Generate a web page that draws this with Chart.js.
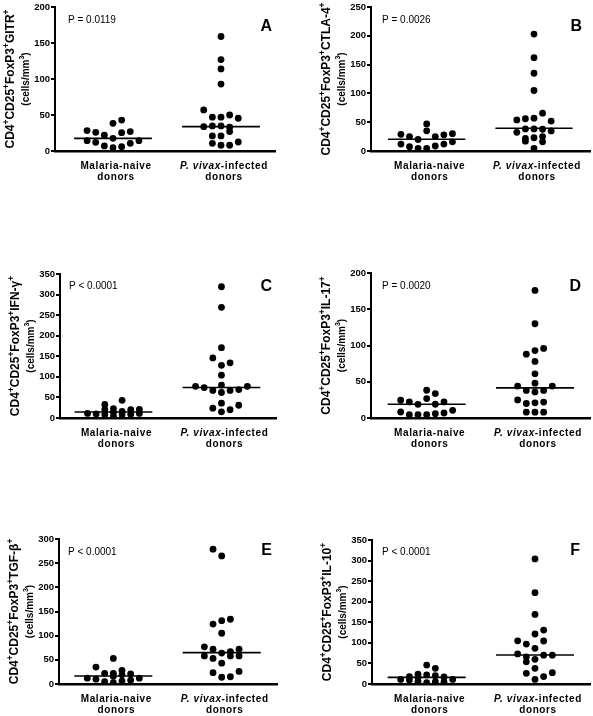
<!DOCTYPE html>
<html>
<head>
<meta charset="utf-8">
<script src="https://cdn.jsdelivr.net/npm/chart.js@4.4.1/dist/chart.umd.min.js"></script>
<style>
  html, body { margin: 0; padding: 0; background: #fff; }
  #fig { position: relative; width: 593px; height: 716px; overflow: hidden; }
  #fig canvas { position: absolute; }
</style>
</head>
<body>
<div id="fig"></div>
<script>
// ---- data (cells/mm3), one dot per donor ----
// slot = horizontal position of the dot inside its column (dot-plot spread)
const groups = ["Malaria-naive", "P. vivax-infected"];
const markers = ["GITR", "CTLA-4", "IFN-\u03b3", "IL-17", "TGF-\u03b2", "IL-10"];
const pLabels = ["P = 0.0119", "P = 0.0026", "P < 0.0001", "P = 0.0020", "P < 0.0001", "P < 0.0001"];
const letters = ["A", "B", "C", "D", "E", "F"];
const yMax = [200, 250, 350, 200, 300, 350];
const yStep = 50;

const naiveA = [28.3, 14.4, 26, 12, 22, 7, 38.5, 17.6, 4.6, 43, 25.5, 6, 27, 10.7, 14.4];
const naiveSlotsA = [-3, -3, -2, -2, -1, -1, 0, 0, 0, 1, 1, 1, 2, 2, 3];
const vivaxA = [159, 127, 114, 93, 57, 47, 47, 50, 45.5, 33.8, 34.8, 34.8, 33, 27, 21, 21, 10.7, 8, 8, 12.5];
const vivaxSlotsA = [0, 0, 0, 0, -2, -1, 0, 1, 2, -2, -1, 0, 1, 1, -1, 0, -1, 0, 1, 2];

const naiveB = [29, 12, 25, 7.5, 20, 4.6, 47, 35, 4.6, 25, 8.7, 28, 12, 30, 16];
const naiveSlotsB = [-3, -3, -2, -2, -1, -1, 0, 0, 0, 1, 1, 2, 2, 3, 3];
const vivaxB = [203, 162, 135, 105, 65.6, 54, 56, 57, 52, 32.5, 38.3, 38.3, 37.8, 34.8, 22, 17, 23, 25, 16, 4.7];
const vivaxSlotsB = [0, 0, 0, 0, 1, -2, -1, 0, 2, -2, -1, 0, 1, 2, -1, -1, 0, 1, 1, 0];

const naiveC = [11, 10, 33, 21, 8, 23, 14, 4, 43, 16, 8, 20, 9, 21, 11];
const naiveSlotsC = [-3, -2, -1, -1, -1, 0, 0, 0, 1, 1, 1, 2, 2, 3, 3];
const vivaxC = [319, 269, 171, 146, 134, 128, 104, 77, 74, 67, 80, 62, 67, 69, 77, 24, 36, 15, 20, 31];
const vivaxSlotsC = [0, 0, 0, -1, 1, 0, 0, -3, -2, -1, 0, 0, 1, 2, 3, -1, 0, 0, 1, 2];

const naiveD = [24.5, 8.3, 22.2, 4.6, 18.9, 4.6, 38.3, 26.8, 4.6, 33.7, 19, 6, 22.2, 6.9, 10.6];
const naiveSlotsD = [-3, -3, -2, -2, -1, -1, 0, 0, 0, 1, 1, 1, 2, 2, 3];
const vivaxD = [176, 130, 88, 93, 96, 78, 61, 44, 48, 44, 38, 36, 38, 25, 20, 21, 22, 8, 8, 8];
const vivaxSlotsD = [0, 0, -1, 0, 1, 0, 0, -2, 0, 2, -1, 0, 1, -2, -1, 0, 1, -1, 0, 1];

const naiveE = [12, 35, 10, 22, 5, 53, 22, 16, 3, 28, 19, 6, 21, 8, 12];
const naiveSlotsE = [-3, -2, -2, -1, -1, 0, 0, 0, 0, 1, 1, 1, 2, 2, 3];
const vivaxE = [279, 265, 124, 131, 134, 105, 77, 72, 64, 67, 72, 58, 53, 58, 58, 43, 23.5, 14, 15, 26];
const vivaxSlotsE = [-1, 0, -1, 0, 1, 0, -2, -1, 0, 1, 2, -2, -1, 1, 2, 0, -1, 0, 1, 2];

const naiveF = [11, 18, 10, 24, 16, 6, 46, 22, 3, 38, 20, 6, 17, 5, 11];
const naiveSlotsF = [-3, -2, -2, -1, -1, -1, 0, 0, 0, 1, 1, 1, 2, 2, 3];
const vivaxF = [304, 222, 169, 105, 97, 121.5, 131, 104.5, 86.7, 73, 66, 54, 60, 70, 70, 38, 26, 11, 18, 27.5];
const vivaxSlotsF = [0, 0, 0, -2, -1, 0, 1, 1, 0, -2, -1, -1, 0, 1, 2, 0, -1, 0, 1, 2];

const medianNaive = [17.6, 20.3, 14.6, 18.9, 16.6, 16.2];
const medianVivax = [33.8, 39.4, 74, 41.6, 65, 70.5];

const naive = [naiveA, naiveB, naiveC, naiveD, naiveE, naiveF];
const naiveSlots = [naiveSlotsA, naiveSlotsB, naiveSlotsC, naiveSlotsD, naiveSlotsE, naiveSlotsF];
const vivax = [vivaxA, vivaxB, vivaxC, vivaxD, vivaxE, vivaxF];
const vivaxSlots = [vivaxSlotsA, vivaxSlotsB, vivaxSlotsC, vivaxSlotsD, vivaxSlotsE, vivaxSlotsF];

// ---- layout (page pixels) ----
const layout = [
  { axis: 55,  top: 7,   bottom: 151, right: 275, xMin: 0.463, xMax: 2.5,   pDx: 13, pDy: 13.7, lDx: 3,  lDy: 20 },
  { axis: 371, top: 7,   bottom: 151, right: 590, xMin: 0.481, xMax: 2.522, pDx: 11, pDy: 13.7, lDx: 8,  lDy: 19.7 },
  { axis: 60,  top: 274, bottom: 418, right: 276, xMin: 0.505, xMax: 2.505, pDx: 9,  pDy: 12.7, lDx: 4,  lDy: 13 },
  { axis: 371, top: 273, bottom: 418, right: 590, xMin: 0.486, xMax: 2.508, pDx: 11, pDy: 13.7, lDx: 9,  lDy: 13.7 },
  { axis: 59,  top: 539, bottom: 684, right: 277, xMin: 0.499, xMax: 2.51,  pDx: 9,  pDy: 13.7, lDx: 5,  lDy: 11.7 },
  { axis: 372, top: 540, bottom: 684, right: 590, xMin: 0.495, xMax: 2.508, pDx: 10, pDy: 12.7, lDx: 10, lDy: 10.7 }
];
const FONT = '"Liberation Sans", Arial, Helvetica, sans-serif';
const SLOT = 0.08;      // x units between neighbouring dots
const HALF_LINE = 0.36; // half length of median bar
const Y_W = 24;         // width of the y scale (ticks + labels)
const LEFT_ROOM = 55;   // canvas room left of the y axis
const BELOW = 36;       // canvas room below the x axis

function drawRich(ctx, segs, x, y, size, supScale) {
  const k = supScale || 0.62;
  const parts = segs.map(([t, st]) => {
    const sup = st === "sup";
    const fs = sup ? size * k : size;
    const font = (st === "bi" ? "italic " : "") + "bold " + fs + "px " + FONT;
    ctx.font = font;
    return { t, font, w: ctx.measureText(t).width, dy: sup ? -size * 0.36 : 0 };
  });
  const total = parts.reduce((s, p) => s + p.w, 0);
  let cx = x - total / 2;
  ctx.textAlign = "left";
  parts.forEach((p) => {
    ctx.font = p.font;
    ctx.fillText(p.t, cx, y + p.dy);
    cx += p.w;
  });
}

const panelText = {
  id: "panelText",
  afterDraw(chart) {
    const i = chart.options.panelIndex;
    const L = layout[i];
    const { ctx, chartArea } = chart;
    const xs = chart.scales.x;
    ctx.save();
    ctx.fillStyle = "#000";
    ctx.textBaseline = "middle";

    // y axis title, two rotated lines
    const midY = (chartArea.top + chartArea.bottom) / 2;
    ctx.save();
    ctx.translate(chartArea.left - 44, midY);
    ctx.rotate(-Math.PI / 2);
    drawRich(ctx, [["CD4", "b"], ["+", "sup"], ["CD25", "b"], ["+", "sup"], ["FoxP3", "b"], ["+", "sup"], [markers[i], "b"], ["+", "sup"]], 0, 0, 12, 0.7);
    ctx.restore();
    ctx.save();
    ctx.translate(chartArea.left - 29, midY);
    ctx.rotate(-Math.PI / 2);
    drawRich(ctx, [["(cells/mm", "b"], ["3", "sup"], [")", "b"]], 0, 0, 10, 0.7);
    ctx.restore();

    // category labels
    ctx.letterSpacing = "0.6px";
    const x1 = xs.getPixelForValue(1) + 3;
    const x2 = xs.getPixelForValue(2) + 3;
    const yl1 = chartArea.bottom + 15;
    const yl2 = chartArea.bottom + 26;
    drawRich(ctx, [[groups[0], "b"]], x1, yl1, 10);
    drawRich(ctx, [["donors", "b"]], x1, yl2, 10);
    drawRich(ctx, [["P. vivax", "bi"], ["-infected", "b"]], x2, yl1, 10);
    drawRich(ctx, [["donors", "b"]], x2, yl2, 10);
    ctx.letterSpacing = "0px";

    // p value and panel letter
    ctx.font = "10px " + FONT;
    ctx.textAlign = "left";
    ctx.fillText(pLabels[i], chartArea.left + L.pDx, chartArea.top + L.pDy);
    ctx.font = "bold 16px " + FONT;
    ctx.textAlign = "right";
    ctx.fillText(letters[i], chartArea.right - L.lDx, chartArea.top + L.lDy);
    ctx.restore();
  }
};

const fig = document.getElementById("fig");

layout.forEach((L, i) => {
  const cLeft = L.axis - LEFT_ROOM;
  const cTop = L.top - 7;
  const w = L.right + 4 - cLeft;
  const h = L.bottom + BELOW - cTop;
  const canvas = document.createElement("canvas");
  canvas.width = w;
  canvas.height = h;
  canvas.style.left = cLeft + "px";
  canvas.style.top = cTop + "px";
  canvas.style.width = w + "px";
  canvas.style.height = h + "px";
  fig.appendChild(canvas);

  const dots = (vals, slots, centre) => vals.map((v, k) => ({ x: centre + slots[k] * SLOT, y: v }));
  const bar = (m, centre) => [{ x: centre - HALF_LINE, y: m }, { x: centre + HALF_LINE, y: m }];
  const dotStyle = { pointRadius: 3.4, pointBackgroundColor: "#000", pointBorderWidth: 0, showLine: false };
  const barStyle = { type: "line", borderColor: "#000", borderWidth: 1.6, pointRadius: 0, fill: false };

  new Chart(canvas, {
    type: "scatter",
    data: {
      datasets: [
        { data: dots(naive[i], naiveSlots[i], 1), ...dotStyle },
        { data: dots(vivax[i], vivaxSlots[i], 2), ...dotStyle },
        { data: bar(medianNaive[i], 1), ...barStyle },
        { data: bar(medianVivax[i], 2), ...barStyle }
      ]
    },
    options: {
      panelIndex: i,
      responsive: false,
      animation: false,
      devicePixelRatio: 1,
      layout: { padding: { left: LEFT_ROOM - Y_W, top: 7, right: 4, bottom: BELOW - 2 } },
      plugins: { legend: { display: false }, tooltip: { enabled: false } },
      scales: {
        x: {
          type: "linear",
          min: L.xMin,
          max: L.xMax,
          ticks: { display: false },
          grid: { display: false },
          border: { color: "#000", width: 2.5 },
          afterFit(s) { s.height = 2; }
        },
        y: {
          min: 0,
          max: yMax[i],
          ticks: { stepSize: yStep, color: "#000", padding: 1, font: { family: FONT, size: 9.5, weight: "bold" } },
          grid: { drawOnChartArea: false, color: "#000", tickLength: 4, lineWidth: 2 },
          border: { color: "#000", width: 2 },
          afterFit(s) { s.width = Y_W; }
        }
      }
    },
    plugins: [panelText]
  });
});
</script>
</body>
</html>
